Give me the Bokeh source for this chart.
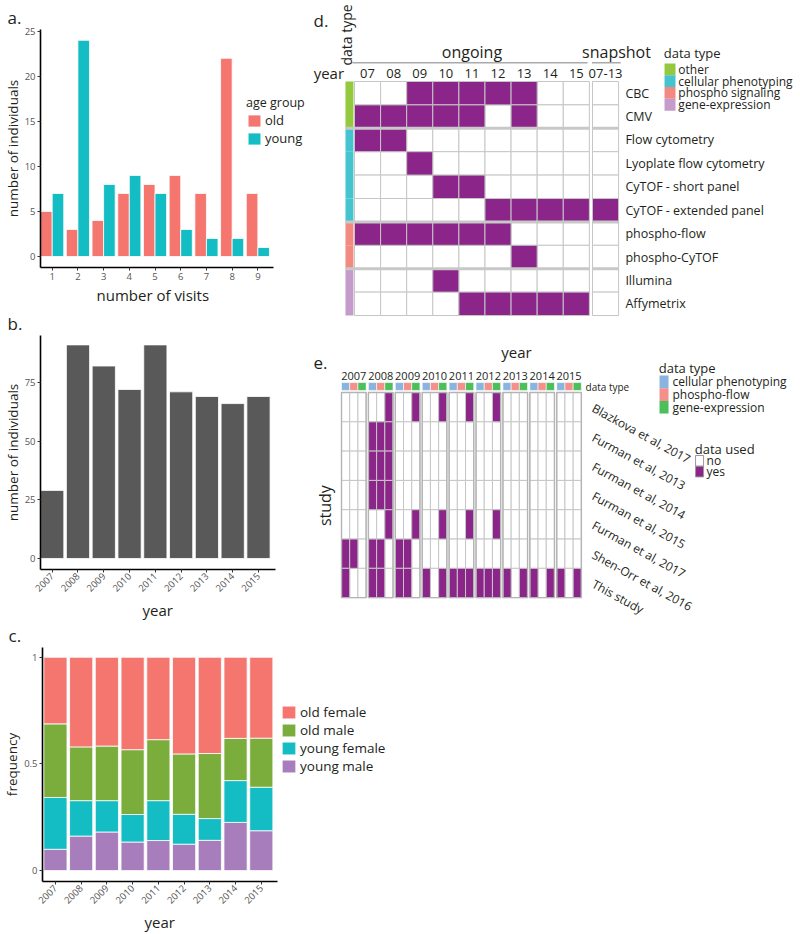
import math
from bokeh.plotting import figure
from bokeh.models import (Range1d, Label, Legend, LegendItem, FixedTicker,
                          ColumnDataSource, Title)
from bokeh.transform import dodge
from bokeh.layouts import column, row
from bokeh.core.properties import value
from bokeh.embed import file_html
from bokeh.resources import INLINE

FONT = "Open Sans"
INK = "#231f20"
PURPLE = "#8b2589"
GRID = "#c6c6c6"

# ---------------- data: panel a ----------------
visits = [1, 2, 3, 4, 5, 6, 7, 8, 9]
old_counts = [5, 3, 4, 7, 8, 9, 7, 22, 7]
young_counts = [7, 24, 8, 9, 7, 3, 2, 2, 1]
age_colors = ["#f4766f", "#14bdc4"]

# ---------------- data: panel b ----------------
years = [2007, 2008, 2009, 2010, 2011, 2012, 2013, 2014, 2015]
individuals = [29, 91, 82, 72, 91, 71, 69, 66, 69]

# ---------------- data: panel c ----------------
young_male = [0.100, 0.162, 0.181, 0.134, 0.141, 0.124, 0.142, 0.226, 0.187]
young_female = [0.243, 0.166, 0.147, 0.129, 0.187, 0.140, 0.102, 0.196, 0.204]
old_male = [0.345, 0.252, 0.256, 0.304, 0.286, 0.283, 0.305, 0.198, 0.230]
old_female = [0.312, 0.420, 0.416, 0.433, 0.386, 0.453, 0.451, 0.380, 0.379]
sex_groups = ["young male", "young female", "old male", "old female"]
sex_colors = ["#a77dbc", "#14bdc4", "#7bad3d", "#f4766f"]

# ---------------- data: panel d ----------------
d_years = ["07", "08", "09", "10", "11", "12", "13", "14", "15"]
d_snapshot = "07-13"
assays = ["CBC", "CMV", "Flow cytometry", "Lyoplate flow cytometry",
          "CyTOF - short panel", "CyTOF - extended panel", "phospho-flow",
          "phospho-CyTOF", "Illumina", "Affymetrix"]
assay_types = ["other", "other", "cellular phenotyping", "cellular phenotyping",
               "cellular phenotyping", "cellular phenotyping", "phospho signaling",
               "phospho signaling", "gene-expression", "gene-expression"]
d_type_names = ["other", "cellular phenotyping", "phospho signaling", "gene-expression"]
d_type_colors = ["#94c83d", "#45c4cf", "#f28a82", "#c59bcb"]
ongoing_used = [
    [0, 0, 1, 1, 1, 1, 1, 0, 0],
    [1, 1, 1, 1, 1, 0, 1, 0, 0],
    [1, 1, 0, 0, 0, 0, 0, 0, 0],
    [0, 0, 1, 0, 0, 0, 0, 0, 0],
    [0, 0, 0, 1, 1, 0, 0, 0, 0],
    [0, 0, 0, 0, 0, 1, 1, 1, 1],
    [1, 1, 1, 1, 1, 1, 0, 0, 0],
    [0, 0, 0, 0, 0, 0, 1, 0, 0],
    [0, 0, 0, 1, 0, 0, 0, 0, 0],
    [0, 0, 0, 0, 1, 1, 1, 1, 1],
]
snapshot_used = [0, 0, 0, 0, 0, 1, 0, 0, 0, 0]

# ---------------- data: panel e ----------------
e_years = ["2007", "2008", "2009", "2010", "2011", "2012", "2013", "2014", "2015"]
studies = ["Blazkova et al, 2017", "Furman et al, 2013", "Furman et al, 2014",
           "Furman et al, 2015", "Furman et al, 2017", "Shen-Orr et al, 2016",
           "This study"]
e_types = ["cellular phenotyping", "phospho-flow", "gene-expression"]
e_type_colors = ["#8ab4e0", "#f4908a", "#4bbf5a"]
used_labels = ["no", "yes"]
used_colors = ["white", PURPLE]
study_used = [
    [[0, 0, 0], [0, 0, 1], [0, 0, 1], [0, 0, 1], [0, 0, 1], [0, 0, 1], [0, 0, 0], [0, 0, 0], [0, 0, 0]],
    [[0, 0, 0], [1, 1, 1], [0, 0, 0], [0, 0, 0], [0, 0, 0], [0, 0, 0], [0, 0, 0], [0, 0, 0], [0, 0, 0]],
    [[0, 0, 0], [1, 1, 1], [0, 0, 0], [0, 0, 0], [0, 0, 0], [0, 0, 0], [0, 0, 0], [0, 0, 0], [0, 0, 0]],
    [[0, 0, 0], [1, 1, 1], [0, 0, 0], [0, 0, 0], [0, 0, 0], [0, 0, 0], [0, 0, 0], [0, 0, 0], [0, 0, 0]],
    [[0, 0, 0], [0, 0, 1], [0, 0, 1], [0, 0, 1], [0, 0, 1], [0, 0, 1], [0, 0, 0], [0, 0, 0], [0, 0, 0]],
    [[1, 1, 0], [1, 1, 0], [1, 1, 0], [0, 0, 0], [0, 0, 0], [0, 0, 0], [0, 0, 0], [0, 0, 0], [0, 0, 0]],
    [[1, 0, 0], [1, 1, 0], [1, 1, 0], [1, 0, 1], [1, 1, 1], [1, 1, 1], [1, 0, 1], [1, 0, 1], [1, 0, 1]],
]


# ---------------- helpers ----------------
def lab(p, x, y, text, size, angle=0.0, align="left", baseline="middle", color=INK):
    p.add_layout(Label(x=x, y=y, text=text, text_font=FONT,
                       text_font_size=f"{size}px", angle=angle,
                       text_align=align, text_baseline=baseline,
                       text_color=color))


def style_axes(p, ylabel):
    p.xgrid.visible = False
    p.ygrid.visible = False
    p.outline_line_color = None
    for ax in p.axis:
        ax.axis_line_color = "black"
        ax.axis_line_width = 1.6
        ax.major_tick_line_color = "#333333"
        ax.major_tick_out = 3
        ax.major_tick_in = 0
        ax.minor_tick_line_color = None
        ax.major_label_text_font = FONT
        ax.major_label_text_font_size = "9.5px"
        ax.major_label_text_color = "#555555"
        ax.major_label_standoff = 2
    p.yaxis.axis_label = ylabel
    p.yaxis.axis_label_text_font = FONT
    p.yaxis.axis_label_text_font_size = "13.5px"
    p.yaxis.axis_label_text_font_style = "normal"
    p.yaxis.axis_label_text_color = INK
    p.yaxis.axis_label_standoff = 0


def panel_tag(p, text, offset):
    p.title.text = text
    p.title.align = "left"
    p.title.offset = offset
    p.title.text_font = FONT
    p.title.text_font_size = "17px"
    p.title.text_font_style = "normal"
    p.title.text_color = INK
    p.title.standoff = 2


def x_title(p, text, offset):
    p.add_layout(Title(text=text, align="left", offset=offset, text_font=FONT,
                       text_font_size="15px", text_font_style="normal",
                       text_color=INK, standoff=0), "below")


def style_legend(leg, gw, gh, fs, title=None, title_fs=None):
    if title is not None:
        leg.title = title
    leg.title_text_font = FONT
    leg.title_text_font_size = f"{title_fs or fs}px"
    leg.title_text_font_style = "normal"
    leg.title_text_color = INK
    leg.title_standoff = 0
    leg.label_text_font = FONT
    leg.label_text_font_size = f"{fs}px"
    leg.label_text_color = INK
    leg.glyph_width = gw
    leg.glyph_height = gh
    leg.label_height = gh
    leg.label_standoff = 3
    leg.spacing = 0
    leg.padding = 0
    leg.margin = 0
    leg.border_line_color = None
    leg.background_fill_alpha = 0


def base_fig(w, h, xr, yr, **kw):
    return figure(width=w, height=h, x_range=xr, y_range=yr,
                  output_backend="svg", toolbar_location=None, **kw)


def bare(p):
    p.xgrid.visible = False
    p.ygrid.visible = False
    p.outline_line_color = None


def manual_legend(p, title, names, fills, x0, w, ytop, h, text_x, title_y, fs,
                  line_color=None):
    n = len(names)
    p.quad(left=x0, right=x0 + w, top=[ytop + k * h for k in range(n)],
           bottom=[ytop + (k + 1) * h for k in range(n)], fill_color=fills,
           line_color=line_color, line_width=1)
    p.text(x=text_x, y=[ytop + (k + 0.5) * h for k in range(n)], text=names,
           text_font=value(FONT), text_font_size=f"{fs}px", text_align="left",
           text_baseline="middle", text_color=INK)
    p.text(x=x0 - 0.03, y=title_y, text=[title], text_font=value(FONT),
           text_font_size=f"{fs + 1}px", text_align="left",
           text_baseline="middle", text_color=INK)


# ================= panel a =================
pa = base_fig(308, 306, Range1d(0.545, 10.97), Range1d(-1.22, 25.2),
              min_border_left=36, min_border_right=0,
              min_border_top=29, min_border_bottom=39)
src_a = ColumnDataSource(dict(visit=visits, old=old_counts, young=young_counts))
r_old = pa.vbar(x=dodge("visit", -0.225, range=pa.x_range), top="old", width=0.45,
                source=src_a, fill_color=age_colors[0], line_color="white", line_width=0.8)
r_young = pa.vbar(x=dodge("visit", 0.225, range=pa.x_range), top="young", width=0.45,
                  source=src_a, fill_color=age_colors[1], line_color="white", line_width=0.8)
style_axes(pa, "number of individuals")
pa.xaxis.ticker = FixedTicker(ticks=visits)
pa.xaxis.bounds = (0.545, 9.61)
pa.yaxis.ticker = FixedTicker(ticks=[0, 5, 10, 15, 20, 25])
leg_a = Legend(items=[LegendItem(label="old", renderers=[r_old]),
                      LegendItem(label="young", renderers=[r_young])],
               location=(206, 120))
style_legend(leg_a, 16, 15, 13, "age group", title_fs=12.5)
pa.add_layout(leg_a)
panel_tag(pa, "a.", -33)
x_title(pa, "number of visits", 56)

# ================= panel b =================
pb = base_fig(308, 314, Range1d(2006.546, 2016.94), Range1d(-4.7, 95),
              min_border_left=36, min_border_right=0,
              min_border_top=29, min_border_bottom=51)
src_b = ColumnDataSource(dict(year=years, n=individuals))
pb.vbar(x="year", top="n", width=0.9, source=src_b, fill_color="#595959",
        line_color="white", line_width=0.8)
style_axes(pb, "number of individuals")
pb.xaxis.ticker = FixedTicker(ticks=years)
pb.xaxis.bounds = (2006.546, 2015.655)
pb.yaxis.ticker = FixedTicker(ticks=[0, 25, 50, 75])
pb.xaxis.major_label_orientation = math.pi / 4
panel_tag(pb, "b.", -33)
x_title(pb, "year", 102)

# ================= panel c =================
pc = base_fig(800, 314, Range1d(2006.498, 2020.41), Range1d(-0.051, 1.046),
              min_border_left=37, min_border_right=400,
              min_border_top=24, min_border_bottom=53)
src_c = ColumnDataSource(dict(year=years, **{
    "young male": young_male, "young female": young_female,
    "old male": old_male, "old female": old_female}))
rs_c = pc.vbar_stack(sex_groups, x="year", width=0.9, source=src_c,
                     fill_color=sex_colors, line_color="white", line_width=0.8)
style_axes(pc, "frequency")
pc.xaxis.ticker = FixedTicker(ticks=years)
pc.xaxis.bounds = (2006.498, 2015.62)
pc.yaxis.ticker = FixedTicker(ticks=[0, 0.5, 1])
pc.yaxis.major_label_overrides = {0: "0", 0.5: "0.5", 1: "1"}
pc.xaxis.major_label_orientation = math.pi / 4
leg_c = Legend(items=[LegendItem(label=g, renderers=[r])
                      for g, r in reversed(list(zip(sex_groups, rs_c)))],
               location=(238, 106))
style_legend(leg_c, 17, 16, 13.5)
pc.add_layout(leg_c)
panel_tag(pc, "c.", -34)
x_title(pc, "year", 102)

# ================= panel d =================
pd_ = base_fig(492, 330, Range1d(-1.762, 17.09), Range1d(10.64, -3.46),
               min_border=0, x_axis_type=None, y_axis_type=None)
bare(pd_)
SNAP_GAP = 0.12
cells = {0: dict(l=[], r=[], t=[], b=[]), 1: dict(l=[], r=[], t=[], b=[])}
for j, used_row in enumerate(ongoing_used):
    for i, u in enumerate(used_row):
        c = cells[u]
        c["l"].append(i); c["r"].append(i + 1); c["t"].append(j); c["b"].append(j + 1)
    u = snapshot_used[j]
    c = cells[u]
    c["l"].append(len(d_years) + SNAP_GAP); c["r"].append(len(d_years) + 1 + SNAP_GAP)
    c["t"].append(j); c["b"].append(j + 1)
for u, fill in ((0, "white"), (1, PURPLE)):
    pd_.quad(left=cells[u]["l"], right=cells[u]["r"], top=cells[u]["t"],
             bottom=cells[u]["b"], fill_color=fill, line_color=GRID, line_width=1)
for tname, tcol in zip(d_type_names, d_type_colors):
    rows_t = [j for j, t in enumerate(assay_types) if t == tname]
    pd_.quad(left=-0.345, right=-0.04, top=rows_t, bottom=[j + 1 for j in rows_t],
             fill_color=tcol, line_color=None)
sep_y = [j for j in range(1, len(assay_types)) if assay_types[j] != assay_types[j - 1]]
pd_.segment(x0=-0.345, x1=len(d_years), y0=sep_y, y1=sep_y, line_color="#c8c8c8", line_width=3)
pd_.segment(x0=len(d_years) + SNAP_GAP, x1=len(d_years) + 1 + SNAP_GAP, y0=sep_y, y1=sep_y,
            line_color="#c8c8c8", line_width=3)
pd_.text(x=[i + 0.5 for i in range(len(d_years))] + [len(d_years) + 0.5 + SNAP_GAP],
         y=-0.36, text=d_years + [d_snapshot], text_font=value(FONT),
         text_font_size="13px", text_align="center", text_baseline="middle",
         text_color=INK)
pd_.text(x=len(d_years) + 1.38, y=[j + 0.5 for j in range(len(assays))], text=assays,
         text_font=value(FONT), text_font_size="12.5px", text_align="left",
         text_baseline="middle", text_color=INK)
pd_.segment(x0=[-0.08, len(d_years) + 0.1], x1=[len(d_years) - 0.07, len(d_years) + 1.2],
            y0=-0.8, y1=-0.8, line_color="#aaaaaa", line_width=1.5)
lab(pd_, len(d_years) / 2, -1.25, "ongoing", 16, align="center")
lab(pd_, len(d_years) + 1.04, -1.25, "snapshot", 16, align="center")
lab(pd_, -0.4, -0.36, "year", 15, align="right")
lab(pd_, -0.31, -0.68, "data type", 14, angle=math.pi / 2, align="left")
lab(pd_, -1.57, -2.6, "d.", 17)
manual_legend(pd_, "data type", d_type_names, d_type_colors,
              x0=11.88, w=0.42, ytop=-0.77, h=0.504, text_x=12.41, title_y=-1.2, fs=12)

# ================= panel e =================
pe = base_fig(492, 290, Range1d(-1.227, 17.06), Range1d(7.78, -2.116),
              min_border=0, x_axis_type=None, y_axis_type=None)
bare(pe)
SUB_W = 0.305
ecells = {0: dict(l=[], r=[], t=[], b=[]), 1: dict(l=[], r=[], t=[], b=[])}
for r_i, per_year in enumerate(study_used):
    for g, trip in enumerate(per_year):
        for t, u in enumerate(trip):
            c = ecells[u]
            c["l"].append(g + t * SUB_W); c["r"].append(g + (t + 1) * SUB_W)
            c["t"].append(r_i); c["b"].append(r_i + 1)
for u in (0, 1):
    pe.quad(left=ecells[u]["l"], right=ecells[u]["r"], top=ecells[u]["t"],
            bottom=ecells[u]["b"], fill_color=used_colors[u], line_color=GRID, line_width=1)
ng = len(e_years)
pe.quad(left=list(range(ng)), right=[g + 3 * SUB_W for g in range(ng)],
        top=0, bottom=len(studies), fill_color=None, line_color="#b4b4b4", line_width=1.4)
for t, tcol in enumerate(e_type_colors):
    pe.quad(left=[g + t * SUB_W for g in range(ng)],
            right=[g + (t + 1) * SUB_W for g in range(ng)],
            top=-0.34, bottom=-0.07, fill_color=tcol, line_color="white", line_width=0.6)
pe.text(x=[g + 1.5 * SUB_W for g in range(ng)], y=-0.56, text=e_years,
        text_font=value(FONT), text_font_size="11px", text_align="center",
        text_baseline="middle", text_color=INK)
pe.text(x=ng + 0.35, y=[r_i + 0.5 for r_i in range(len(studies))], text=studies,
        text_font=value(FONT), text_font_size="12px", text_align="left",
        text_baseline="middle", text_color=INK, angle=-0.5)
lab(pe, ng + 0.07, -0.2, "data type", 10)
lab(pe, 6.5, -1.37, "year", 15, align="center")
lab(pe, -1.04, -1.02, "e.", 17)
lab(pe, -0.6, 3.86, "study", 16, angle=math.pi / 2, align="center")
manual_legend(pe, "data type", e_types, e_type_colors,
              x0=11.82, w=0.335, ytop=-0.58, h=0.433, text_x=12.3, title_y=-0.84, fs=12)
manual_legend(pe, "data used", used_labels, used_colors,
              x0=13.16, w=0.297, ytop=2.15, h=0.365, text_x=13.57, title_y=1.94, fs=12,
              line_color="#999999")

layout = column(row(column(pa, pb), column(pd_, pe)), pc)
open("out.html", "w").write(file_html(layout, INLINE))
